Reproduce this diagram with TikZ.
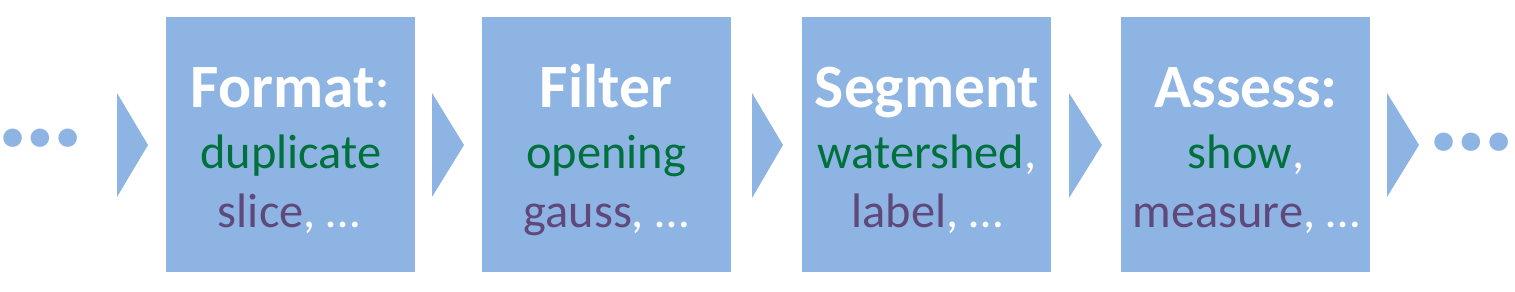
\documentclass[tikz,border=0pt]{standalone}
\usepackage{fontspec}
\setmainfont{Carlito}
\definecolor{boxblue}{HTML}{8EB4E3}
\definecolor{fgreen}{HTML}{00703C}
\definecolor{fpurple}{HTML}{5F497A}
\tikzset{
  stage/.style={fill=boxblue, draw=none, minimum width=124.5pt, minimum height=127.5pt, inner sep=0pt, anchor=north west},
  ttl/.style={text=white, font=\fontsize{30.8}{36}\selectfont\bfseries, inner sep=0pt, anchor=base},
  body/.style={text=white, font=\fontsize{24.2}{28}\selectfont, inner sep=0pt, anchor=base},
  dotstext/.style={text=boxblue, font=\fontsize{62}{70}\selectfont\bfseries, inner sep=0pt, anchor=base},
  chev/.style={fill=boxblue, draw=none}
}
\begin{document}
\begin{tikzpicture}[x=0.5pt,y=-0.5pt]
\useasboundingbox (0,0) rectangle (1515,292);
% boxes
\node[stage] (b1) at (166,17) {};
\node[stage] (b2) at (482,17) {};
\node[stage] (b3) at (802,17) {};
\node[stage] (b4) at (1121,17) {};
% chevrons
\fill[chev] (117,93) -- (148,145) -- (117,197) -- cycle;
\fill[chev] (432,93) -- (464,145) -- (432,197) -- cycle;
\fill[chev] (752,93) -- (783,145) -- (752,198) -- cycle;
\fill[chev] (1069,93) -- (1102,145) -- (1069,198) -- cycle;
\fill[chev] (1387,93) -- (1419,145) -- (1387,197) -- cycle;
% dots
\node[dotstext] (dl) at (41,147) {…};
\node[dotstext] (dr) at (1472,151) {…};
% texts
\node[ttl] (t1) at (291,108) {Format\mdseries:};
\node[body] (g1) at (291,169) {\textcolor{fgreen}{duplicate}};
\node[body] (p1) at (289,228) {\textcolor{fpurple}{slice}, …};

\node[ttl] (t2) at (606,108) {Filter};
\node[body] (g2) at (606,169) {\textcolor{fgreen}{opening}};
\node[body] (p2) at (606,228) {\textcolor{fpurple}{gauss}, …};

\node[ttl] (t3) at (927,108) {Segment};
\node[body] (g3) at (927,169) {\textcolor{fgreen}{watershed},};
\node[body] (p3) at (927,228) {\textcolor{fpurple}{label}, …};

\node[ttl] (t4) at (1246,108) {Assess:};
\node[body] (g4) at (1246,169) {\textcolor{fgreen}{show},};
\node[body] (p4) at (1246,228) {\textcolor{fpurple}{measure}, …};
\end{tikzpicture}
\end{document}
